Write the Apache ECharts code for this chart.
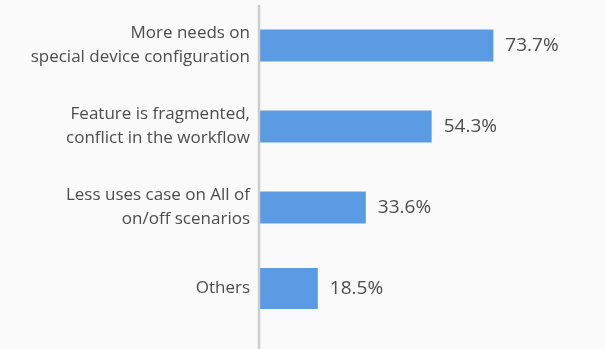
<!DOCTYPE html>
<html>
<head>
<meta charset="utf-8">
<script src="https://cdn.jsdelivr.net/npm/echarts@6/dist/echarts.min.js"></script>
<style>
  html, body { margin: 0; padding: 0; background: #fafafa; }
  #chart { width: 605px; height: 349px; }
</style>
</head>
<body>
<div id="chart"></div>
<script>
// Survey reasons, listed top to bottom
const categories = [
  'More needs on\nspecial device configuration',
  'Feature is fragmented,\nconflict in the workflow',
  'Less uses case on All of\non/off scenarios',
  'Others'
];
const shares = [73.7, 54.3, 33.6, 18.5];

// the catch-all "Others" row is drawn with a thicker bar
const lastIdx = categories.length - 1;
const mainData = shares.map((v, i) => (i === lastIdx ? '-' : v));
const otherData = shares.map((v, i) => (i === lastIdx ? v : '-'));

const valueLabel = {
  show: true,
  position: 'right',
  distance: 12,
  formatter: p => p.value + '%',
  fontFamily: 'Open Sans',
  fontSize: 19,
  color: '#4d4d4d'
};

const chart = echarts.init(document.getElementById('chart'));
chart.setOption({
  backgroundColor: '#fafafa',
  animation: false,
  grid: { left: 259, right: 28, top: 5, bottom: 20 },
  xAxis: {
    type: 'value', min: 0, max: 100,
    show: false
  },
  yAxis: [{
    type: 'category',
    inverse: true,
    data: categories,
    axisLine: { show: false },
    axisTick: { show: false },
    axisLabel: {
      margin: 9,
      fontFamily: 'Open Sans',
      fontSize: 17,
      lineHeight: 24,
      color: '#4d4d4d',
      align: 'right'
    }
  }, {
    // twin axis so the thicker bar is centred on its own row
    type: 'category',
    inverse: true,
    position: 'left',
    data: categories,
    show: false
  }],
  graphic: [{
    // vertical baseline running from the top of the plot to the bottom edge
    type: 'rect',
    z: 10,
    shape: { x: 257.75, y: 5, width: 2.5, height: 344 },
    style: { fill: '#cccccc' },
    silent: true
  }],
  series: [{
    type: 'bar',
    yAxisIndex: 0,
    data: mainData,
    barWidth: 32,
    itemStyle: { color: '#5b9be3' },
    label: valueLabel
  }, {
    type: 'bar',
    yAxisIndex: 1,
    data: otherData,
    barWidth: 41,
    itemStyle: { color: '#5b9be3' },
    label: valueLabel
  }]
});
</script>
</body>
</html>
